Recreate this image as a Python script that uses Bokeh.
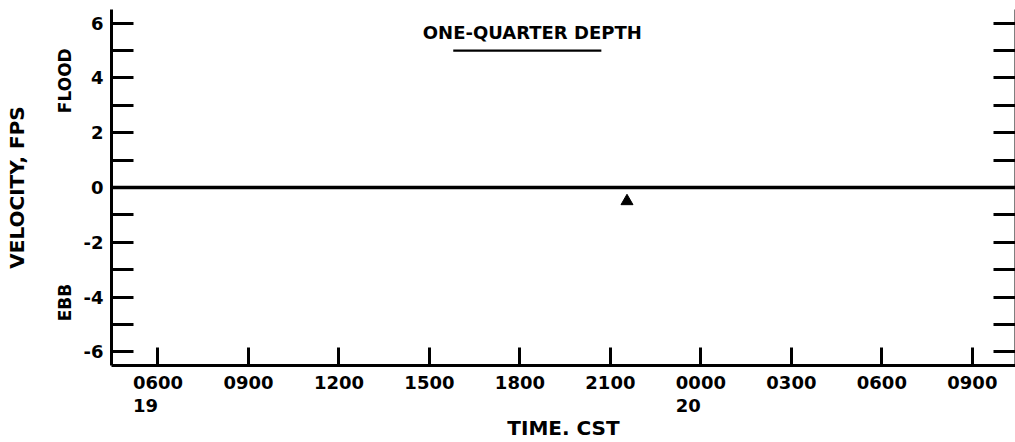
from bokeh.plotting import figure
from bokeh.models import Range1d, FixedTicker, LinearAxis, Label, Span, BoxAnnotation
from bokeh.embed import file_html
from bokeh.resources import INLINE

# ---- data (hours counted from 0000 on day 19) ----
obs_hour = [21.55]
obs_velocity = [-0.5]

x_tick_hours = [6, 9, 12, 15, 18, 21, 24, 27, 30, 33]
x_tick_labels = ["0600", "0900", "1200", "1500", "1800", "2100", "0000", "0300", "0600", "0900"]
day_mark_hours = [6, 24]
day_mark_labels = ["19", "20"]

y_major_ticks = [-6, -4, -2, 0, 2, 4, 6]
y_minor_ticks = [-5, -3, -1, 1, 3, 5]
y_tick_labels = ["-6", "-4", "-2", "0", "2", "4", "6"]

side_word_pos = [3.9, -4.2]
side_words = ["FLOOD", "EBB"]

title_text = "ONE-QUARTER DEPTH"
FONT = "DejaVu Sans"
PAD = "\u00a0" * 4   # shifts the centred day number so that it starts under the time label

p = figure(width=1015, height=442,
           x_range=Range1d(4.46, 34.43), y_range=Range1d(-6.5, 6.5),
           output_backend="svg", toolbar_location=None,
           min_border_left=111, min_border_right=0, min_border_top=9, min_border_bottom=77)
p.grid.visible = False
p.outline_line_color = None
p.background_fill_color = "white"
p.border_fill_color = "white"

def style_common(ax, size="18px"):
    ax.axis_line_width = 3
    ax.axis_line_color = "black"
    ax.major_tick_line_width = 3
    ax.minor_tick_line_width = 3
    ax.major_tick_line_color = "black"
    ax.minor_tick_line_color = "black"
    ax.major_tick_out = 0
    ax.minor_tick_out = 0
    ax.major_label_text_font = FONT
    ax.major_label_text_font_style = "bold"
    ax.major_label_text_font_size = size
    ax.major_label_text_color = "black"
    ax.axis_label_text_font = FONT
    ax.axis_label_text_font_style = "bold"
    ax.axis_label_text_font_size = "20px"
    ax.axis_label_text_color = "black"

def bare(ax):
    ax.axis_line_color = None
    ax.major_tick_line_color = None
    ax.minor_tick_line_color = None
    ax.major_tick_in = 0
    ax.minor_tick_in = 0

# bottom axis: time of day
xa = p.xaxis[0]
style_common(xa)
xa.ticker = FixedTicker(ticks=x_tick_hours)
xa.major_label_overrides = {h: lab for h, lab in zip(x_tick_hours, x_tick_labels)}
xa.major_tick_in = 18
xa.minor_tick_in = 0
xa.major_label_standoff = 10

# second bottom row: day numbers, and the axis title
da = LinearAxis(axis_label="TIME. CST")
style_common(da)
bare(da)
da.ticker = FixedTicker(ticks=day_mark_hours)
da.major_label_overrides = {h: lab + PAD for h, lab in zip(day_mark_hours, day_mark_labels)}
da.major_label_standoff = 3
da.axis_label_standoff = -3
p.add_layout(da, "below")

# left axis: velocity numbers
ya = p.yaxis[0]
style_common(ya)
ya.ticker = FixedTicker(ticks=y_major_ticks, minor_ticks=y_minor_ticks)
ya.major_label_overrides = {v: lab for v, lab in zip(y_major_ticks, y_tick_labels)}
ya.major_tick_in = 22
ya.minor_tick_in = 22
ya.major_label_standoff = 8

# outer left axis: FLOOD / EBB and the axis title
wa = LinearAxis(axis_label="VELOCITY, FPS")
style_common(wa, "17px")
bare(wa)
wa.ticker = FixedTicker(ticks=side_word_pos)
wa.major_label_overrides = {v: w for v, w in zip(side_word_pos, side_words)}
wa.major_label_orientation = "vertical"
wa.major_label_standoff = 5
wa.axis_label_standoff = 24
p.add_layout(wa, "left")

# right axis (ticks only)
ra = LinearAxis()
style_common(ra)
ra.ticker = FixedTicker(ticks=y_major_ticks, minor_ticks=y_minor_ticks)
ra.major_label_overrides = {v: "" for v in y_major_ticks}
ra.major_tick_in = 22
ra.minor_tick_in = 22
ra.major_label_standoff = 0
ra.axis_line_width = 2
p.add_layout(ra, "right")

# zero line
p.add_layout(Span(location=0, dimension="width", line_color="black", line_width=3.5))

# observation
p.scatter(obs_hour, obs_velocity, marker="triangle", size=12, color="black")

# title and underline
p.add_layout(Label(x=18.41, y=5.66, text=title_text, text_align="center", text_baseline="middle",
                   text_font=FONT, text_font_style="bold", text_font_size="18px", text_color="black"))
p.add_layout(BoxAnnotation(left=15.79, right=20.70, bottom=4.96, top=5.04,
                           fill_color="black", fill_alpha=1, line_alpha=0))

open("out.html", "w").write(file_html(p, INLINE))
